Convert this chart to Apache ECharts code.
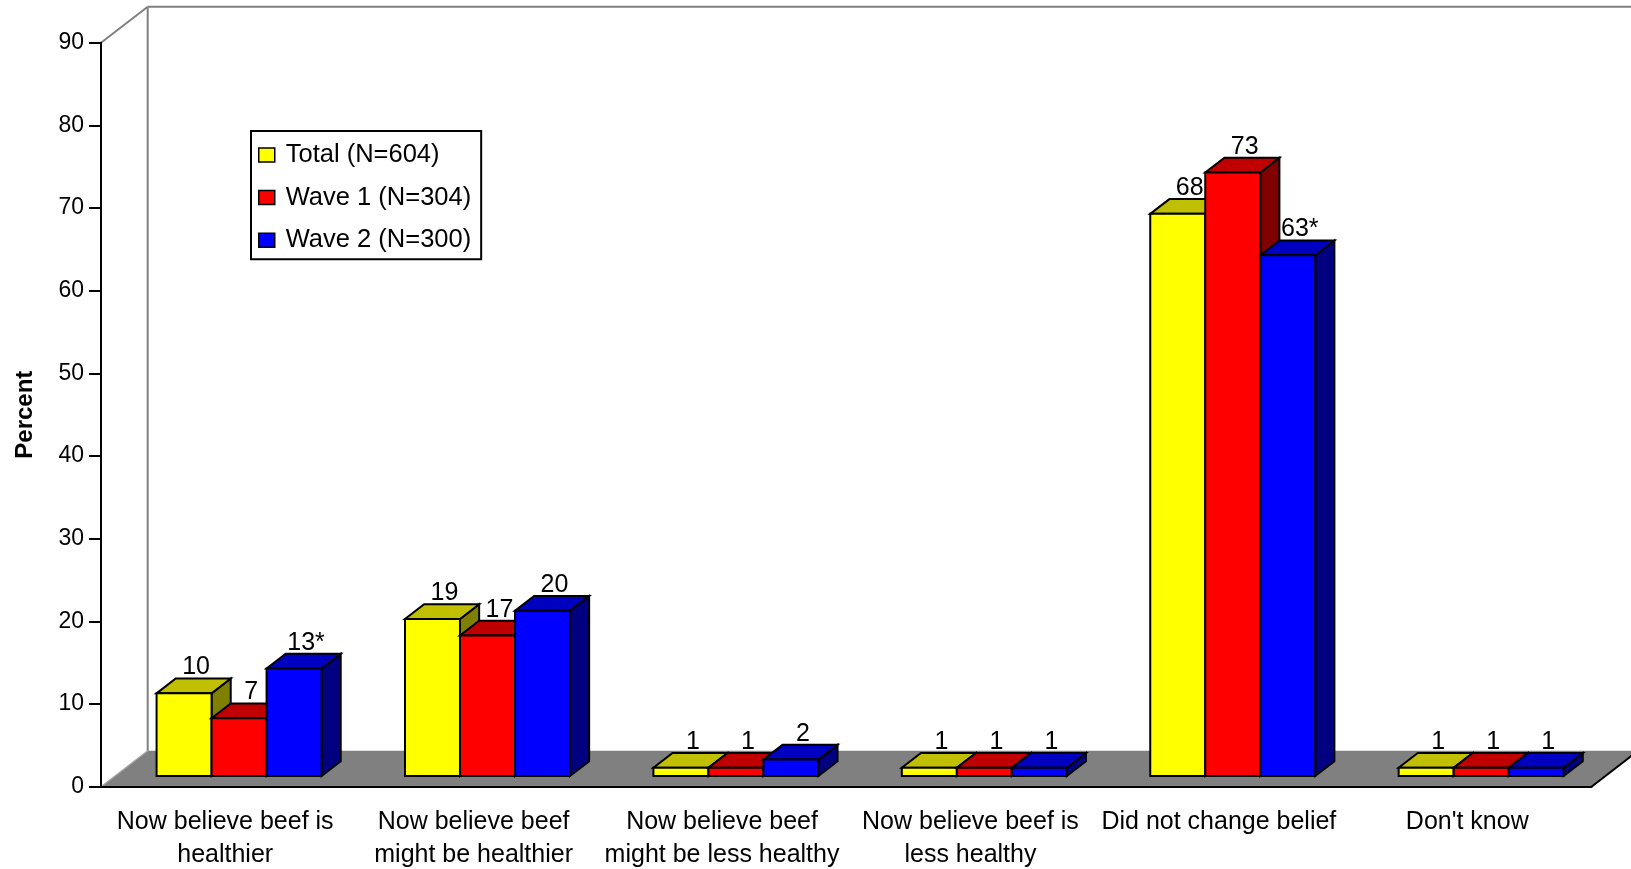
<!DOCTYPE html>
<html>
<head>
<meta charset="utf-8">
<title>Beliefs about beef</title>
<script src="https://cdn.jsdelivr.net/npm/echarts@6/dist/echarts.min.js"></script>
<style>
  html, body { margin: 0; padding: 0; background: #fff; }
  #chart { width: 1631px; height: 869px; }
</style>
</head>
<body>
<div id="chart"></div>
<script>
// Survey answers, in percent
const categories = [
  'Now believe beef is\nhealthier',
  'Now believe beef\nmight be healthier',
  'Now believe beef\nmight be less healthy',
  'Now believe beef is\nless healthy',
  'Did not change belief',
  "Don't know"
];
const seriesNames = ['Total (N=604)', 'Wave 1 (N=304)', 'Wave 2 (N=300)'];
const totalValues = [10, 19, 1, 1, 68, 1];
const wave1Values = [7, 17, 1, 1, 73, 1];
const wave2Values = [13, 20, 2, 1, 63, 1];
// significance markers shown after the Wave 2 numbers
const wave2Marks = ['*', '', '', '', '*', ''];
const yMin = 0, yMax = 90, yStep = 10;

const FONT = "'Liberation Sans', Arial, Helvetica, sans-serif";

// pseudo-3D projection: full depth of the floor, and where the bars sit in it
const DEPTH_DX = 46.7, DEPTH_DY = -36;
const BAR_FRONT = 0.297, BAR_DEPTH = 0.41;
const BAR_FRAC = 0.2214; // bar width as share of one category

const faceColors = [
  { front: '#FFFF00', top: '#C0C000', side: '#808000' },
  { front: '#FF0000', top: '#C00000', side: '#800000' },
  { front: '#0000FF', top: '#0000C0', side: '#000080' }
];

const seriesValues = [totalValues, wave1Values, wave2Values];
const seriesMarks = [null, null, wave2Marks];

function barRenderer(k) {
  return function (params, api) {
    const ci = api.value(0);
    const v = api.value(1);
    const base = api.coord([ci, 0]);
    const top = api.coord([ci, v]);
    const catW = api.size([1, 0])[0];
    const bw = catW * BAR_FRAC;
    const fdx = DEPTH_DX * BAR_FRONT, fdy = DEPTH_DY * BAR_FRONT;
    const ddx = DEPTH_DX * BAR_DEPTH, ddy = DEPTH_DY * BAR_DEPTH;
    const x0 = base[0] - 1.5 * bw + k * bw + fdx;
    const x1 = x0 + bw;
    const yb = base[1] + fdy;
    const yt = top[1] + fdy;
    const c = faceColors[k];
    const stroke = { stroke: '#000', lineWidth: 2, lineJoin: 'miter' };
    const mark = seriesMarks[k] ? seriesMarks[k][params.dataIndex] : '';
    return {
      type: 'group',
      children: [
        { type: 'polygon', shape: { points: [[x1, yb], [x1 + ddx, yb + ddy], [x1 + ddx, yt + ddy], [x1, yt]] },
          style: Object.assign({ fill: c.side }, stroke) },
        { type: 'polygon', shape: { points: [[x0, yt], [x1, yt], [x1 + ddx, yt + ddy], [x0 + ddx, yt + ddy]] },
          style: Object.assign({ fill: c.top }, stroke) },
        { type: 'rect', shape: { x: x0, y: yt, width: bw, height: yb - yt },
          style: Object.assign({ fill: c.front }, stroke) },
        { type: 'text', z2: 10,
          style: { text: String(v) + mark, x: x0 + bw / 2 + 12, y: yt + ddy + 1.5,
            align: 'center', verticalAlign: 'bottom',
            font: '25px ' + FONT, fill: '#000' } }
      ]
    };
  };
}

function floorRenderer(params) {
  const cs = params.coordSys;
  const x0 = cs.x, x1 = cs.x + cs.width, yb = cs.y + cs.height, yt = cs.y;
  const dx = DEPTH_DX, dy = DEPTH_DY;
  const wall = { stroke: '#808080', lineWidth: 2 };
  return {
    type: 'group',
    children: [
      { type: 'polygon', shape: { points: [[x0, yb], [x1, yb], [x1 + dx, yb + dy], [x0 + dx, yb + dy]] },
        style: { fill: '#808080' } },
      { type: 'line', shape: { x1: x0, y1: yb, x2: x0 + dx, y2: yb + dy }, style: { stroke: '#a8a8a8', lineWidth: 1.2 } },
      { type: 'line', shape: { x1: x0 + dx, y1: yb + dy, x2: x0 + dx, y2: yt + dy }, style: wall },
      { type: 'line', shape: { x1: x0 + dx, y1: yt + dy, x2: x1 + dx + 20, y2: yt + dy }, style: wall },
      { type: 'line', shape: { x1: x0, y1: yt, x2: x0 + dx, y2: yt + dy }, style: wall },
      { type: 'line', shape: { x1: x1, y1: yb, x2: x1 + dx, y2: yb + dy }, style: { stroke: '#000', lineWidth: 2 } }
    ]
  };
}

const chart = echarts.init(document.getElementById('chart'), null, { renderer: 'canvas' });

const series = [{
  type: 'custom',
  name: 'floor',
  silent: true,
  clip: false,
  z: 1,
  data: [[0, 0]],
  renderItem: floorRenderer
}];
seriesValues.forEach(function (vals, k) {
  series.push({
    type: 'custom',
    name: seriesNames[k],
    clip: false,
    z: 3,
    color: faceColors[k].front,
    itemStyle: { color: faceColors[k].front },
    encode: { x: 0, y: 1 },
    data: vals.map(function (v, i) { return [i, v]; }),
    renderItem: barRenderer(k)
  });
});

chart.setOption({
  animation: false,
  backgroundColor: '#fff',
  textStyle: { fontFamily: FONT },
  grid: {
    left: 101, right: 39.5, top: 42.7, bottom: 82.3,
    containLabel: false,
    outerBoundsMode: 'none'
  },
  legend: {
    data: seriesNames,
    orient: 'vertical',
    left: 251, top: 131,
    icon: 'rect',
    itemWidth: 16, itemHeight: 14,
    itemGap: 14.6,
    padding: [10, 10, 5, 7],
    borderColor: '#000', borderWidth: 2,
    backgroundColor: '#fff',
    selectedMode: false,
    itemStyle: { borderColor: '#000', borderWidth: 1.5 },
    textStyle: { fontSize: 25.5, color: '#000', fontFamily: FONT, lineHeight: 28, padding: [0, 0, 0, 6] }
  },
  xAxis: {
    type: 'category',
    data: categories,
    z: 5,
    axisLine: { lineStyle: { color: '#000', width: 2 } },
    axisTick: { length: 12, lineStyle: { color: '#000', width: 2 } },
    axisLabel: { interval: 0, fontSize: 25, lineHeight: 33, margin: 19, color: '#000', fontFamily: FONT },
    splitLine: { show: false }
  },
  yAxis: {
    type: 'value',
    min: yMin, max: yMax, interval: yStep,
    z: 5,
    name: 'Percent',
    nameLocation: 'middle',
    nameRotate: 90,
    nameGap: 64,
    nameTextStyle: { fontSize: 24, fontWeight: 'bold', color: '#000', fontFamily: FONT },
    axisLine: { show: true, lineStyle: { color: '#000', width: 2 } },
    axisTick: { show: true, length: 12, lineStyle: { color: '#000', width: 2 } },
    axisLabel: { fontSize: 23, margin: 17, color: '#000', fontFamily: FONT },
    splitLine: { show: false }
  },
  series: series
});
</script>
</body>
</html>
